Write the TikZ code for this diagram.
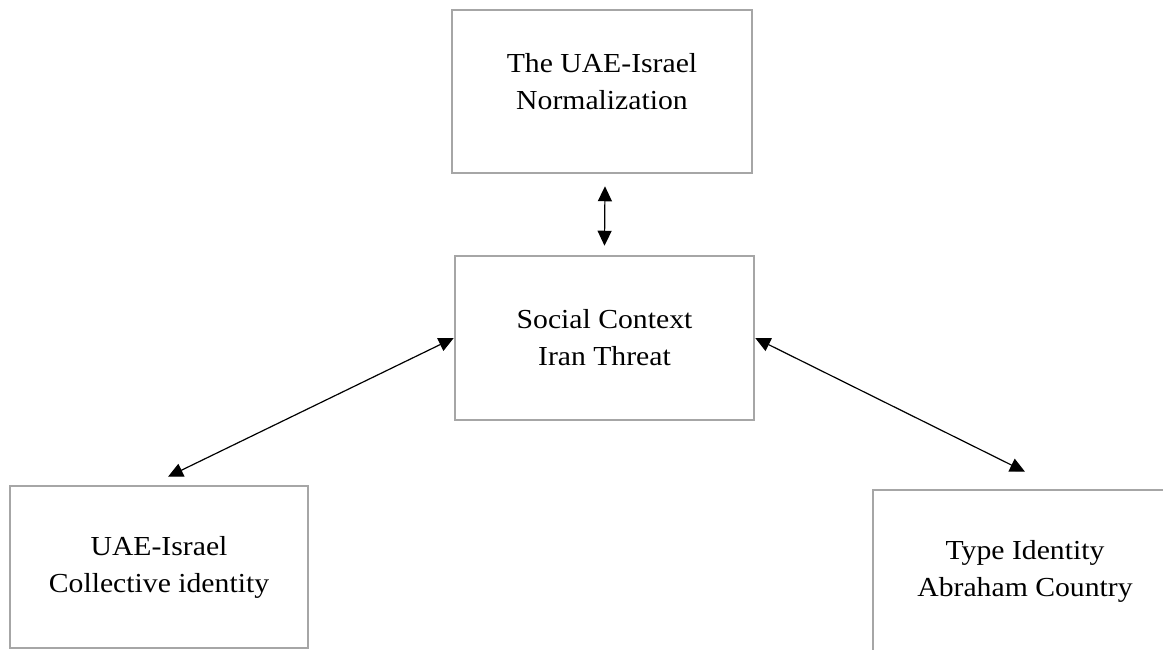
\documentclass[tikz,border=0pt]{standalone}
\usepackage{fontspec}
\setmainfont{Liberation Serif}[FakeStretch=1.08]
\usetikzlibrary{arrows.meta,calc}
\definecolor{boxgray}{HTML}{A6A6A6}
\tikzset{
  box/.style={draw=boxgray, line width=2.5pt, rectangle, inner sep=0pt},
  lbl/.style={align=center, font=\fontsize{27.5pt}{37pt}\selectfont, inner sep=0pt},
  link/.style={line width=1.2pt, {Triangle[length=15pt,width=14pt]}-{Triangle[length=15pt,width=14pt]}}
}
\begin{document}
\begin{tikzpicture}[x=1pt,y=-1pt]
\useasboundingbox (0,0) rectangle (1163,650);
\clip (0,0) rectangle (1163,650);
% boxes
\node[box, minimum width=300pt, minimum height=163pt] (top) at (602,91.5) {};
\node[lbl] (toptext) at ([yshift=10pt]top.center) {The UAE-Israel\\Normalization};
\node[box, lbl, minimum width=299pt, minimum height=164pt] (mid) at (604.5,338) {Social Context\\Iran Threat};
\node[box, lbl, minimum width=298pt, minimum height=162pt] (left) at (159,567) {UAE-Israel\\Collective identity};
\node[box, lbl, minimum width=304pt, minimum height=162pt] (right) at (1025,571) {Type Identity\\Abraham Country};
% arrow end points
\coordinate (topa) at ($(top.south)+(3,12)$);
\coordinate (mida) at ($(mid.north)+(0,-9)$);
\coordinate (lefta) at ($(left.north)+(9,-8)$);
\coordinate (righta) at ($(right.north)+(0,-17)$);
% connectors
\draw[link] (topa) -- (mida);
\draw[link] (mid.west) -- (lefta);
\draw[link] (mid.east) -- (righta);
\end{tikzpicture}
\end{document}
